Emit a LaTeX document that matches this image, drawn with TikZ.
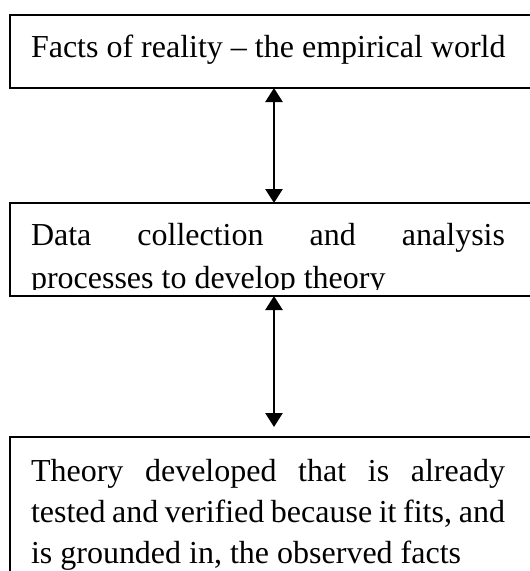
\documentclass[tikz,border=0pt]{standalone}
\usepackage{fontspec}
\setmainfont{Liberation Serif}
\usetikzlibrary{arrows.meta,calc}

\tikzset{
  box/.style={draw, line width=2pt, rectangle, anchor=north west,
    inner sep=0pt, outer sep=0pt, minimum width=529pt},
  textline/.style={anchor=base west, inner sep=0pt, outer sep=0pt,
    font=\fontsize{32pt}{41pt}\selectfont},
  twoway/.style={{Triangle[width=17pt,length=14pt]}-{Triangle[width=17pt,length=14pt]},
    line width=2.5pt}
}

\begin{document}
\begin{tikzpicture}[x=1pt,y=-1pt]
  \useasboundingbox (0,0) rectangle (530,571);
  \clip (0,0) rectangle (530,571);

  % the three stages
  \node[box, minimum height=73pt]  (facts)  at (9.5,15)  {};
  \node[box, minimum height=93pt]  (data)   at (9.5,203) {};
  \node[box, minimum height=200pt] (theory) at (9.5,437) {};

  % texts of the stages
  \node[textline] (factsA) at (31,57) {Facts of reality – the empirical world};

  \node[textline] (dataA) at (31,245)
    {\hbox to 474pt{Data\hfill collection\hfill and\hfill analysis}};
  \begin{scope}
    \clip (0,0) rectangle (530,289);
    \node[textline] (dataB) at (31,288) {processes to develop theory};
  \end{scope}

  \node[textline] (theoryA) at (31,481)
    {\hbox to 474pt{Theory\hfill developed\hfill that\hfill is\hfill already}};
  \node[textline] (theoryB) at (31,522)
    {\hbox to 474pt{tested and verified because it fits, and}};
  \node[textline] (theoryC) at (31,563) {is grounded in, the observed facts};

  % links between the stages
  \coordinate (theoryTop) at ($(theory.north)+(0,-10)$);
  \draw[twoway] (facts.south) -- (data.north);
  \draw[twoway] (data.south) -- (theoryTop);
\end{tikzpicture}
\end{document}
